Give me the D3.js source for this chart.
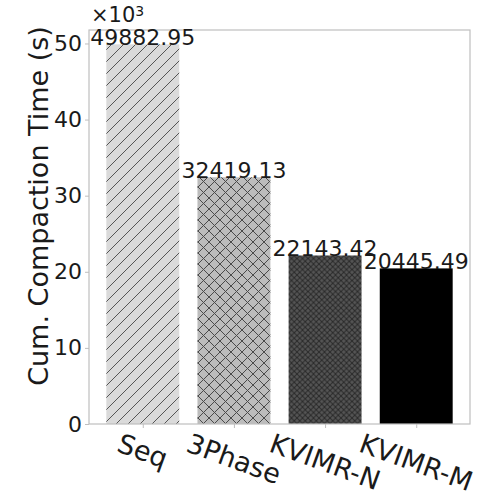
<!DOCTYPE html>
<html><head><meta charset="utf-8">
<script src="https://cdn.jsdelivr.net/npm/d3@7"></script>
<style>body{margin:0;background:#fff}svg{display:block}text{font-family:"DejaVu Sans",sans-serif;fill:#1a1a1a}</style>
</head><body>
<svg id="c" width="481" height="496"></svg>
<script>
const categories = ["Seq", "3Phase", "KVIMR-N", "KVIMR-M"];
const values = [49882.95, 32419.13, 22143.42, 20445.49];
const labels = ["49882.95", "32419.13", "22143.42", "20445.49"];
const yTicks = [0, 10000, 20000, 30000, 40000, 50000];
const fills = ["#dadada", "#bcbcbc", "#555555", "#000000"];
const hatches = ["/", "x", "xx", ""];

const svg = d3.select("#c");
const L = 89, R = 470, T = 30, B = 424;
const yMax = 51770;
const xLo = -0.59, xHi = 3.59;
const x = d3.scaleLinear().domain([xLo, xHi]).range([L, R]);
const y = d3.scaleLinear().domain([0, yMax]).range([B, T]);
const bw = 0.8;

const defs = svg.append("defs");
function pat(id, size, kind, bg, stroke, sw) {
  const p = defs.append("pattern").attr("id", id).attr("patternUnits", "userSpaceOnUse")
    .attr("width", size).attr("height", size);
  p.append("rect").attr("width", size).attr("height", size).attr("fill", bg);
  const segs = [[0, size, size, 0], [-size/2, size/2, size/2, -size/2], [size/2, size*1.5, size*1.5, size/2]];
  segs.forEach(s => p.append("line").attr("x1", s[0]).attr("y1", s[1]).attr("x2", s[2]).attr("y2", s[3])
    .attr("stroke", stroke).attr("stroke-width", sw));
  if (kind === "x") {
    const segs2 = [[0, 0, size, size], [-size/2, size/2, size/2, size*1.5], [size/2, -size/2, size*1.5, size/2]];
    segs2.forEach(s => p.append("line").attr("x1", s[0]).attr("y1", s[1]).attr("x2", s[2]).attr("y2", s[3])
      .attr("stroke", stroke).attr("stroke-width", sw));
  }
}
pat("h0", 12, "/", fills[0], "#555", 1);
pat("h1", 11, "x", fills[1], "#4a4a4a", 1);
pat("h2", 5.5, "x", fills[2], "#2a2a2a", 1);

const fillFor = i => hatches[i] ? `url(#h${i})` : fills[i];

svg.selectAll("rect.bar").data(values).join("rect").attr("class", "bar")
  .attr("x", (d, i) => x(i - bw/2)).attr("width", x(bw) - x(0))
  .attr("y", d => y(d)).attr("height", d => B - y(d))
  .attr("fill", (d, i) => fillFor(i));

// frame
const spine = "#bfbfbf";
svg.append("rect").attr("x", L).attr("y", T).attr("width", R - L).attr("height", B - T)
  .attr("fill", "none").attr("stroke", spine).attr("stroke-width", 1.2);

// y axis
const yAxis = d3.axisLeft(y).tickValues(yTicks).tickFormat(d => d / 1000).tickSize(4).tickPadding(3);
const gy = svg.append("g").attr("transform", `translate(${L},0)`).call(yAxis);
gy.select(".domain").remove();
gy.selectAll("line").attr("stroke", spine);
gy.selectAll("text").style("font-size", "22px").attr("fill", "#1a1a1a");

// x ticks
const gx = svg.append("g").attr("transform", `translate(0,${B})`)
  .call(d3.axisBottom(x).tickValues(d3.range(categories.length)).tickFormat("").tickSize(4));
gx.select(".domain").remove();
gx.selectAll("line").attr("stroke", spine);

// x labels rotated
const ang = 20, rad = ang * Math.PI / 180, fs = 27;
categories.forEach((c, i) => {
  const t = svg.append("text").text(c).style("font-size", fs + "px")
    .attr("text-anchor", "middle").attr("dominant-baseline", "central");
  const w = t.node().getComputedTextLength();
  const h = fs * 0.95;
  const bh = w * Math.sin(rad) + h * Math.cos(rad);
  const cy = B + 6 + bh / 2;
  t.attr("transform", `translate(${x(i)},${cy}) rotate(${ang})`);
});

// bar value labels
svg.selectAll("text.val").data(values).join("text").attr("class", "val")
  .attr("x", (d, i) => x(i)).attr("y", d => y(d) + 1)
  .attr("text-anchor", "middle").style("font-size", "22px")
  .text((d, i) => labels[i]);

// offset text
svg.append("text").attr("x", 91).attr("y", 21.5).style("font-size", "21px")
  .html('×10<tspan dy="-6" style="font-size:14px">3</tspan>');

// y label
svg.append("text").attr("transform", `translate(48,206) rotate(-90)`)
  .attr("text-anchor", "middle").style("font-size", "27px")
  .text("Cum. Compaction Time (s)");
</script>
</body></html>
